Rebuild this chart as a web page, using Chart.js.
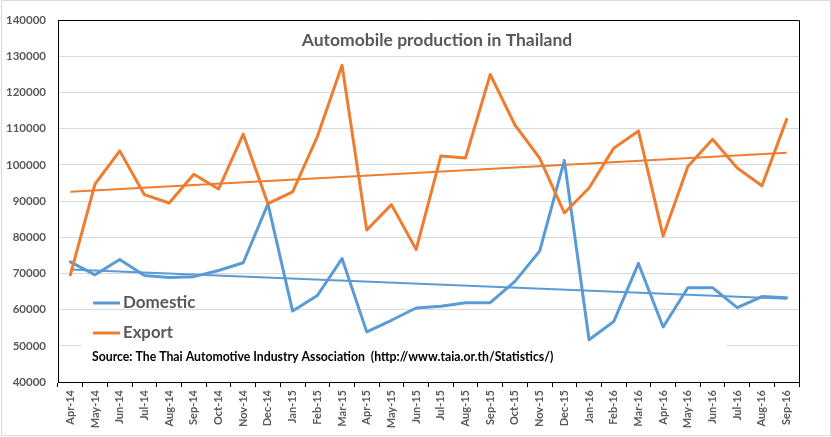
<!DOCTYPE html>
<html>
<head>
<meta charset="utf-8">
<title>Automobile production in Thailand</title>
<script src="https://cdn.jsdelivr.net/npm/chart.js@4/dist/chart.umd.min.js"></script>
<style>
  html, body { margin: 0; padding: 0; background: #fff; }
  #wrap { width: 831px; height: 437px; }
</style>
</head>
<body>
<div id="wrap"><canvas id="chart" width="831" height="437"></canvas></div>
<script>
// monthly production
const months = ["Apr-14", "May-14", "Jun-14", "Jul-14", "Aug-14", "Sep-14", "Oct-14", "Nov-14", "Dec-14",
    "Jan-15", "Feb-15", "Mar-15", "Apr-15", "May-15", "Jun-15", "Jul-15", "Aug-15", "Sep-15", "Oct-15", "Nov-15", "Dec-15",
    "Jan-16", "Feb-16", "Mar-16", "Apr-16", "May-16", "Jun-16", "Jul-16", "Aug-16", "Sep-16"];
const domestic = [73200, 69600, 73850, 69450, 68900, 69100, 70800, 72950, 89200,
    59600, 63900, 74100, 53850, 57050, 60450, 60900, 61900, 61900, 67800, 76150, 101200,
    51650, 56700, 72750, 55200, 66050, 66050, 60550, 63600, 63300];
const exportVals = [69600, 94700, 103850, 91750, 89450, 97400, 93300, 108450, 89250,
    92500, 107800, 127500, 82000, 89000, 76600, 102400, 101900, 124950, 111000, 101850, 86700,
    93600, 104600, 109350, 80300, 99550, 107050, 99100, 94200, 112550];
// linear trend lines: value at first and last month
const domesticTrend = [71100, 63000];
const exportTrend = [92550, 103300];
const yTicks = { min: 40000, max: 140000, step: 10000 };

const blue = "#5B9BD5";
const orange = "#ED7D31";
const grey = "#595959";

function trendData(ends) {
    return months.map((m, i) => i === 0 ? ends[0] : (i === months.length - 1 ? ends[1] : null));
}

// shrink a font until the text fits the width it has in the reference
function fitFont(ctx, text, width, maxSize, weight) {
    let size = maxSize;
    ctx.font = `${weight} ${size}px Lato`;
    while (size > 6 && ctx.measureText(text).width > width) {
        size -= 0.25;
        ctx.font = `${weight} ${size}px Lato`;
    }
}

const decorations = {
    id: "decorations",
    beforeDatasetsDraw(chart) {
        const ctx = chart.ctx;
        // the source note sits in a white box that hides the 50000 gridline
        ctx.save();
        ctx.fillStyle = "#fff";
        ctx.fillRect(82, 342, 644, 28);
        ctx.restore();
    },
    afterDraw(chart) {
        const ctx = chart.ctx;
        const a = chart.chartArea;
        ctx.save();
        // top and right edges of the plot frame
        ctx.strokeStyle = "#000";
        ctx.lineWidth = 1;
        ctx.beginPath();
        ctx.moveTo(a.left, a.top + 0.5);
        ctx.lineTo(a.right + 0.5, a.top + 0.5);
        ctx.lineTo(a.right + 0.5, a.bottom);
        ctx.stroke();
        // chart area border
        ctx.strokeStyle = "#d9d9d9";
        ctx.strokeRect(1.5, 0.5, 829, 435);

        ctx.textBaseline = "middle";
        // title
        const title = "Automobile production in Thailand";
        ctx.fillStyle = grey;
        ctx.textAlign = "center";
        fitFont(ctx, title, 272, 19, "bold");
        ctx.fillText(title, 437, 40);

        // legend
        ctx.textAlign = "left";
        const legend = [
            { text: "Domestic", color: blue, y: 303, w: 73 },
            { text: "Export", color: orange, y: 333, w: 50 }
        ];
        legend.forEach(item => {
            ctx.strokeStyle = item.color;
            ctx.lineWidth = 3;
            ctx.beginPath();
            ctx.moveTo(93, item.y);
            ctx.lineTo(120, item.y);
            ctx.stroke();
            ctx.fillStyle = grey;
            fitFont(ctx, item.text, item.w, 19, "bold");
            ctx.fillText(item.text, 123, item.y);
        });

        // source note
        const source = "Source: The Thai Automotive Industry Association  (http://www.taia.or.th/Statistics/)";
        ctx.fillStyle = "#000";
        fitFont(ctx, source, 466, 13, "bold");
        ctx.fillText(source, 92, 357);
        ctx.restore();
    }
};

const lineStyle = {
    borderWidth: 3,
    pointRadius: 0,
    tension: 0,
    borderCapStyle: "round",
    borderJoinStyle: "round"
};

const ctx = document.getElementById("chart");
const myChart = new Chart(ctx, {
    type: "line",
    data: {
        labels: months,
        datasets: [
            { label: "Domestic", data: domestic, borderColor: blue, order: 2, ...lineStyle },
            { label: "Export", data: exportVals, borderColor: orange, order: 1, ...lineStyle },
            { label: "Domestic trend", data: trendData(domesticTrend), borderColor: blue, borderWidth: 2,
              pointRadius: 0, spanGaps: true, order: 3 },
            { label: "Export trend", data: trendData(exportTrend), borderColor: orange, borderWidth: 2,
              pointRadius: 0, spanGaps: true, order: 3 }
        ]
    },
    options: {
        responsive: false,
        animation: false,
        devicePixelRatio: 1,
        layout: { padding: { top: 20, right: 32, left: 0, bottom: 0 } },
        plugins: {
            legend: { display: false },
            title: { display: false },
            tooltip: { enabled: false }
        },
        scales: {
            x: {
                offset: true,
                grid: { offset: true, drawOnChartArea: false, drawTicks: true, tickLength: 5, color: "#000" },
                border: { color: "#000", width: 1 },
                ticks: {
                    autoSkip: false,
                    minRotation: 90,
                    maxRotation: 90,
                    padding: 3,
                    color: grey,
                    font: { family: "Lato", weight: "bold", size: 11 }
                },
                afterFit: scale => { scale.height = 55; }
            },
            y: {
                min: yTicks.min,
                max: yTicks.max,
                grid: { color: "#d9d9d9", drawTicks: false },
                border: { color: "#000", width: 1 },
                ticks: {
                    stepSize: yTicks.step,
                    padding: 12,
                    color: grey,
                    font: { family: "Lato", weight: "bold", size: 11.5 },
                    callback: v => String(v)
                },
                afterFit: scale => { scale.width = 58; }
            }
        }
    },
    plugins: [decorations]
});
</script>
</body>
</html>
